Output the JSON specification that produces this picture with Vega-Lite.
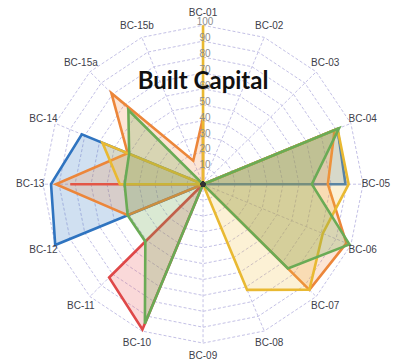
{
  "$schema": "https://vega.github.io/schema/vega-lite/v6.json",
  "width": 400,
  "height": 361,
  "autosize": {"type": "fit", "contains": "padding"},
  "padding": 0,
  "background": "white",
  "config": {"view": {"stroke": null}},
  "datasets": {
    "axes": [
      {"k": "BC-01", "i": 0, "S1": 0, "S2": 0, "S3": 42, "S4": 100, "S5": 0},
      {"k": "BC-02", "i": 1, "S1": 0, "S2": 0, "S3": 0, "S4": 0, "S5": 0},
      {"k": "BC-03", "i": 2, "S1": 0, "S2": 0, "S3": 0, "S4": 0, "S5": 0},
      {"k": "BC-04", "i": 3, "S1": 91, "S2": 0, "S3": 89, "S4": 91, "S5": 92},
      {"k": "BC-05", "i": 4, "S1": 89, "S2": 0, "S3": 78, "S4": 91, "S5": 68},
      {"k": "BC-06", "i": 5, "S1": 0, "S2": 0, "S3": 97, "S4": 81, "S5": 99},
      {"k": "BC-07", "i": 6, "S1": 0, "S2": 0, "S3": 94, "S4": 94, "S5": 75},
      {"k": "BC-08", "i": 7, "S1": 0, "S2": 0, "S3": 0, "S4": 72, "S5": 0},
      {"k": "BC-09", "i": 8, "S1": 0, "S2": 0, "S3": 0, "S4": 0, "S5": 0},
      {"k": "BC-10", "i": 9, "S1": 0, "S2": 99, "S3": 0, "S4": 0, "S5": 95},
      {"k": "BC-11", "i": 10, "S1": 0, "S2": 83, "S3": 0, "S4": 0, "S5": 51},
      {"k": "BC-12", "i": 11, "S1": 100, "S2": 0, "S3": 51, "S4": 0, "S5": 51},
      {"k": "BC-13", "i": 12, "S1": 95, "S2": 83, "S3": 92, "S4": 52, "S5": 49},
      {"k": "BC-14", "i": 13, "S1": 82, "S2": 0, "S3": 51, "S4": 68, "S5": 50},
      {"k": "BC-15a", "i": 14, "S1": 0, "S2": 0, "S3": 81, "S4": 0, "S5": 66},
      {"k": "BC-15b", "i": 15, "S1": 0, "S2": 0, "S3": 16, "S4": 0, "S5": 0}
    ],
    "rings": [
      {"r": [10, 20, 30, 40, 50, 60, 70, 80, 90, 100], "i": [0, 1, 2, 3, 4, 5, 6, 7, 8, 9, 10, 11, 12, 13, 14, 15]}
    ],
    "titles": [{"t": "Built Capital"}]
  },
  "encoding": {
    "x": {"field": "x", "type": "quantitative", "scale": {"domain": [-126.9, 123.1], "nice": false, "zero": false}, "axis": null},
    "y": {"field": "y", "type": "quantitative", "scale": {"domain": [-110, 115.9], "nice": false, "zero": false}, "axis": null}
  },
  "layer": [
    {
      "data": {"name": "rings"},
      "transform": [
        {"flatten": ["r"]},
        {"flatten": ["i"]},
        {"calculate": "datum.r * sin(datum.i * PI / 8)", "as": "x"},
        {"calculate": "datum.r * cos(datum.i * PI / 8)", "as": "y"}
      ],
      "mark": {"type": "line", "interpolate": "linear-closed", "stroke": "#c4c1e6", "strokeWidth": 1, "strokeDash": [3, 2]},
      "encoding": {"detail": {"field": "r", "type": "nominal"}, "order": {"field": "i", "type": "quantitative"}}
    },
    {
      "data": {"name": "axes"},
      "transform": [
        {"calculate": "100 * sin(datum.i * PI / 8)", "as": "x"},
        {"calculate": "100 * cos(datum.i * PI / 8)", "as": "y"},
        {"calculate": "0", "as": "c"}
      ],
      "mark": {"type": "rule", "stroke": "#c4c1e6", "strokeWidth": 1, "strokeDash": [3, 2]},
      "encoding": {
        "x": {"field": "c", "type": "quantitative"},
        "y": {"field": "c", "type": "quantitative"},
        "x2": {"field": "x"},
        "y2": {"field": "y"}
      }
    },
    {
      "data": {"name": "axes"},
      "transform": [
        {"fold": ["S1", "S2", "S3", "S4", "S5"], "as": ["s", "v"]},
        {"calculate": "datum.v * sin(datum.i * PI / 8)", "as": "x"},
        {"calculate": "datum.v * cos(datum.i * PI / 8)", "as": "y"}
      ],
      "layer": [
        {
          "transform": [{"filter": "datum.s === 'S1'"}],
          "mark": {"type": "line", "interpolate": "linear-closed", "fill": "#3a7cc6", "fillOpacity": 0.24, "stroke": "#2f74c0", "strokeWidth": 2.6},
          "encoding": {"order": {"field": "i", "type": "quantitative"}}
        },
        {
          "transform": [{"filter": "datum.s === 'S2'"}],
          "mark": {"type": "line", "interpolate": "linear-closed", "fill": "#e65050", "fillOpacity": 0.22, "stroke": "#df4848", "strokeWidth": 2.6},
          "encoding": {"order": {"field": "i", "type": "quantitative"}}
        },
        {
          "transform": [{"filter": "datum.s === 'S3'"}],
          "mark": {"type": "line", "interpolate": "linear-closed", "fill": "#f08a40", "fillOpacity": 0.22, "stroke": "#ec863a", "strokeWidth": 2.6},
          "encoding": {"order": {"field": "i", "type": "quantitative"}}
        },
        {
          "transform": [{"filter": "datum.s === 'S4'"}],
          "mark": {"type": "line", "interpolate": "linear-closed", "fill": "#f0c040", "fillOpacity": 0.22, "stroke": "#e9b932", "strokeWidth": 2.6},
          "encoding": {"order": {"field": "i", "type": "quantitative"}}
        },
        {
          "transform": [{"filter": "datum.s === 'S5'"}],
          "mark": {"type": "line", "interpolate": "linear-closed", "fill": "#6aa84f", "fillOpacity": 0.25, "stroke": "#6aab55", "strokeWidth": 2.6},
          "encoding": {"order": {"field": "i", "type": "quantitative"}}
        },
        {
          "transform": [{"filter": "datum.v === 0"}],
          "mark": {"type": "point", "filled": true, "size": 22, "color": "#333333", "opacity": 1},
          "encoding": {}
        }
      ]
    },
    {
      "data": {"name": "rings"},
      "transform": [
        {"flatten": ["r"]},
        {"calculate": "0", "as": "x"},
        {"calculate": "datum.r", "as": "y"}
      ],
      "mark": {"type": "text", "font": "Liberation Sans", "fontSize": 10, "color": "#8e8e8e", "baseline": "middle", "align": "center", "dx": 2, "dy": -3},
      "encoding": {"text": {"field": "r", "type": "quantitative"}}
    },
    {
      "data": {"name": "axes"},
      "transform": [
        {"calculate": "108 * sin(datum.i * PI / 8)", "as": "x"},
        {"calculate": "108 * cos(datum.i * PI / 8)", "as": "y"}
      ],
      "mark": {"type": "text", "font": "Liberation Sans", "fontSize": 10, "color": "#40404a", "baseline": "middle", "align": "center"},
      "encoding": {"text": {"field": "k", "type": "nominal"}}
    },
    {
      "data": {"name": "titles"},
      "transform": [
        {"calculate": "0", "as": "x"},
        {"calculate": "60", "as": "y"}
      ],
      "mark": {"type": "text", "font": "Lato", "fontWeight": "bold", "fontSize": 24, "color": "#111111", "baseline": "alphabetic", "align": "center"},
      "encoding": {"text": {"field": "t", "type": "nominal"}}
    }
  ]
}
